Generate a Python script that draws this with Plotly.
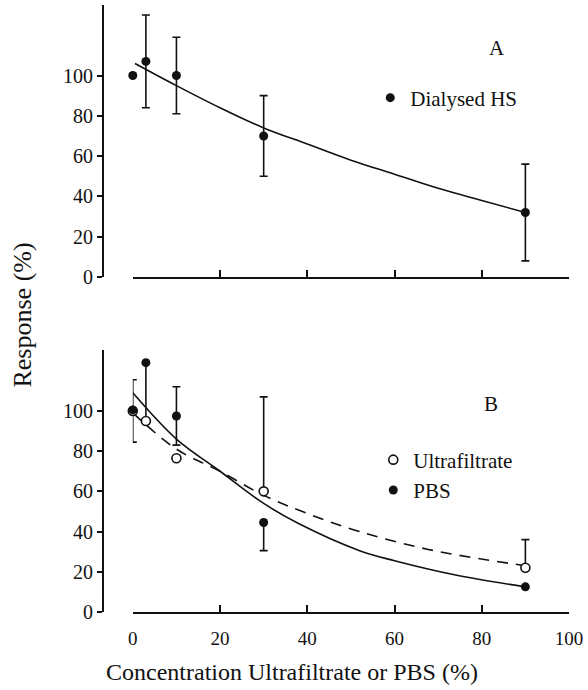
import plotly.graph_objects as go

# ---------------- data ----------------
# Panel A: Dialysed HS
x_A = [0, 3, 10, 30, 90]
y_A = [100, 107, 100, 70, 32]
errA_plus = [None, 23, 19, 20, 24]
errA_minus = [None, 23, 19, 20, 24]
fitA_x = [0.5, 10, 20, 30, 40, 50, 60, 70, 80, 90]
fitA_y = [106, 95, 84, 74, 66, 58, 51, 44, 38, 32]

# Panel B: Ultrafiltrate (open) and PBS (filled)
x_B = [0, 3, 10, 30, 90]
ultra = [100, 95, 76.5, 60, 22]
pbs = [100.5, 124, 97.5, 44.5, 12.5]
ultra_plus = [None, None, None, 47, 14]
pbs_plus = [15, None, 14.5, None, None]
pbs_minus = [16, 29, 14.5, 14, None]
fitPBS_x = [0, 10, 20, 30, 38, 52, 60, 74, 90]
fitPBS_y = [109, 86, 70, 54, 44, 30.5, 25.5, 18.4, 12.5]
fitUltra_x = [0, 10, 20, 30, 40, 52, 68, 90]
fitUltra_y = [99, 81, 70, 58, 49, 40, 31, 23]

x_ticks = [0, 20, 40, 60, 80, 100]
y_ticks = [0, 20, 40, 60, 80, 100]

FONT = "Liberation Serif, Times New Roman, Tinos, DejaVu Serif, serif"
BLACK = "#111111"


def err_trace(xs, ys, plus, minus, xa, ya):
    sel = [i for i in range(len(xs)) if (plus[i] is not None) or (minus[i] is not None)]
    ex = [xs[i] for i in sel]
    ey = [ys[i] for i in sel]
    ep = [plus[i] or 0 for i in sel]
    em = [minus[i] or 0 for i in sel]
    return go.Scatter(
        x=ex, y=ey, mode="markers", marker=dict(size=2, opacity=0),
        error_y=dict(type="data", symmetric=False, array=ep, arrayminus=em,
                     color=BLACK, thickness=1.6, width=4),
        showlegend=False, hoverinfo="skip", cliponaxis=False,
        xaxis=xa, yaxis=ya)


fig = go.Figure()

# ---- panel A ----
fig.add_trace(err_trace(x_A, y_A, errA_plus, errA_minus, "x", "y"))
fig.add_trace(go.Scatter(x=fitA_x, y=fitA_y, mode="lines", line=dict(color=BLACK, width=1.6, shape="spline"),
                         showlegend=False, hoverinfo="skip", xaxis="x", yaxis="y"))
fig.add_trace(go.Scatter(x=x_A, y=y_A, mode="markers", name="Dialysed HS",
                         marker=dict(size=9, color=BLACK, symbol="circle"),
                         cliponaxis=False, xaxis="x", yaxis="y", legend="legend"))

# ---- panel B ----
fig.add_trace(err_trace(x_B, ultra, ultra_plus, [None] * len(x_B), "x2", "y2"))
fig.add_trace(err_trace(x_B, pbs, pbs_plus, pbs_minus, "x2", "y2"))
fig.add_trace(go.Scatter(x=fitPBS_x, y=fitPBS_y, mode="lines", line=dict(color=BLACK, width=1.6, shape="spline"),
                         showlegend=False, hoverinfo="skip", xaxis="x2", yaxis="y2"))
fig.add_trace(go.Scatter(x=fitUltra_x, y=fitUltra_y, mode="lines",
                         line=dict(color=BLACK, width=1.6, shape="spline", dash="11px,8px"),
                         showlegend=False, hoverinfo="skip", xaxis="x2", yaxis="y2"))
fig.add_trace(go.Scatter(x=x_B, y=ultra, mode="markers", name="Ultrafiltrate",
                         marker=dict(size=9, color="white", symbol="circle", line=dict(color=BLACK, width=1.6)),
                         cliponaxis=False, xaxis="x2", yaxis="y2", legend="legend2"))
fig.add_trace(go.Scatter(x=x_B, y=pbs, mode="markers", name="PBS",
                         marker=dict(size=9, color=BLACK, symbol="circle"),
                         cliponaxis=False, xaxis="x2", yaxis="y2", legend="legend2"))

W, H = 588, 690
ML, MR, MT, MB = 103, 16, 5, 78
PW = W - ML - MR
PH = H - MT - MB
x0_px = 133  # pixel of x = 0
xdom = [(x0_px - ML) / PW, 1.0]
ydomA = [(612 - 277) / PH, 1.0]
ydomB = [0.0, (612 - 350) / PH]

xcommon = dict(range=[0, 100], domain=xdom, tickvals=x_ticks, ticks="inside", ticklen=7, tickwidth=1.6,
               tickcolor=BLACK, showline=True, linecolor=BLACK, linewidth=1.6, showgrid=False,
               zeroline=False, tickfont=dict(family=FONT, size=19, color=BLACK))
ycommon = dict(anchor="free", position=0, tickvals=y_ticks, ticks="outside", ticklen=5, tickwidth=1.6,
               tickcolor=BLACK, showline=True, linecolor=BLACK, linewidth=1.8, showgrid=False,
               zeroline=False, tickfont=dict(family=FONT, size=20, color=BLACK))

fig.update_layout(
    width=W, height=H,
    margin=dict(l=ML, r=MR, t=MT, b=MB),
    paper_bgcolor="white", plot_bgcolor="white",
    font=dict(family=FONT, color=BLACK),
    xaxis=dict(**xcommon, anchor="y", showticklabels=False),
    yaxis=dict(**ycommon, domain=ydomA, range=[0, 135]),
    xaxis2=dict(**xcommon, anchor="y2", showticklabels=True, ticklabelstandoff=8),
    yaxis2=dict(**ycommon, domain=ydomB, range=[0, 130.3]),
    legend=dict(x=(372 - ML) / PW, y=(612 - 98) / PH, xanchor="left", yanchor="middle",
                font=dict(family=FONT, size=21, color=BLACK), bgcolor="rgba(0,0,0,0)",
                itemwidth=30),
    legend2=dict(x=(375 - ML) / PW, y=(612 - 475) / PH, xanchor="left", yanchor="middle",
                 font=dict(family=FONT, size=21, color=BLACK), bgcolor="rgba(0,0,0,0)",
                 itemwidth=30, tracegroupgap=0),
    annotations=[
        dict(text="A", x=(500 - ML) / PW, y=(612 - 48) / PH, xref="paper", yref="paper",
             xanchor="center", yanchor="middle",
             showarrow=False, font=dict(family=FONT, size=21, color=BLACK)),
        dict(text="B", x=(493 - ML) / PW, y=(612 - 404) / PH, xref="paper", yref="paper",
             xanchor="center", yanchor="middle",
             showarrow=False, font=dict(family=FONT, size=21, color=BLACK)),
        dict(text="Response (%)", x=(22 - ML) / PW, y=(612 - 315) / PH, xref="paper", yref="paper",
             xanchor="center", yanchor="middle",
             showarrow=False, textangle=-90, font=dict(family=FONT, size=26, color=BLACK)),
        dict(text="Concentration Ultrafiltrate or PBS (%)", x=(293 - ML) / PW, y=(612 - 672) / PH,
             xref="paper", yref="paper", xanchor="center", yanchor="middle",
             showarrow=False, font=dict(family=FONT, size=24, color=BLACK)),
    ],
)

fig.write_html("out.html")
